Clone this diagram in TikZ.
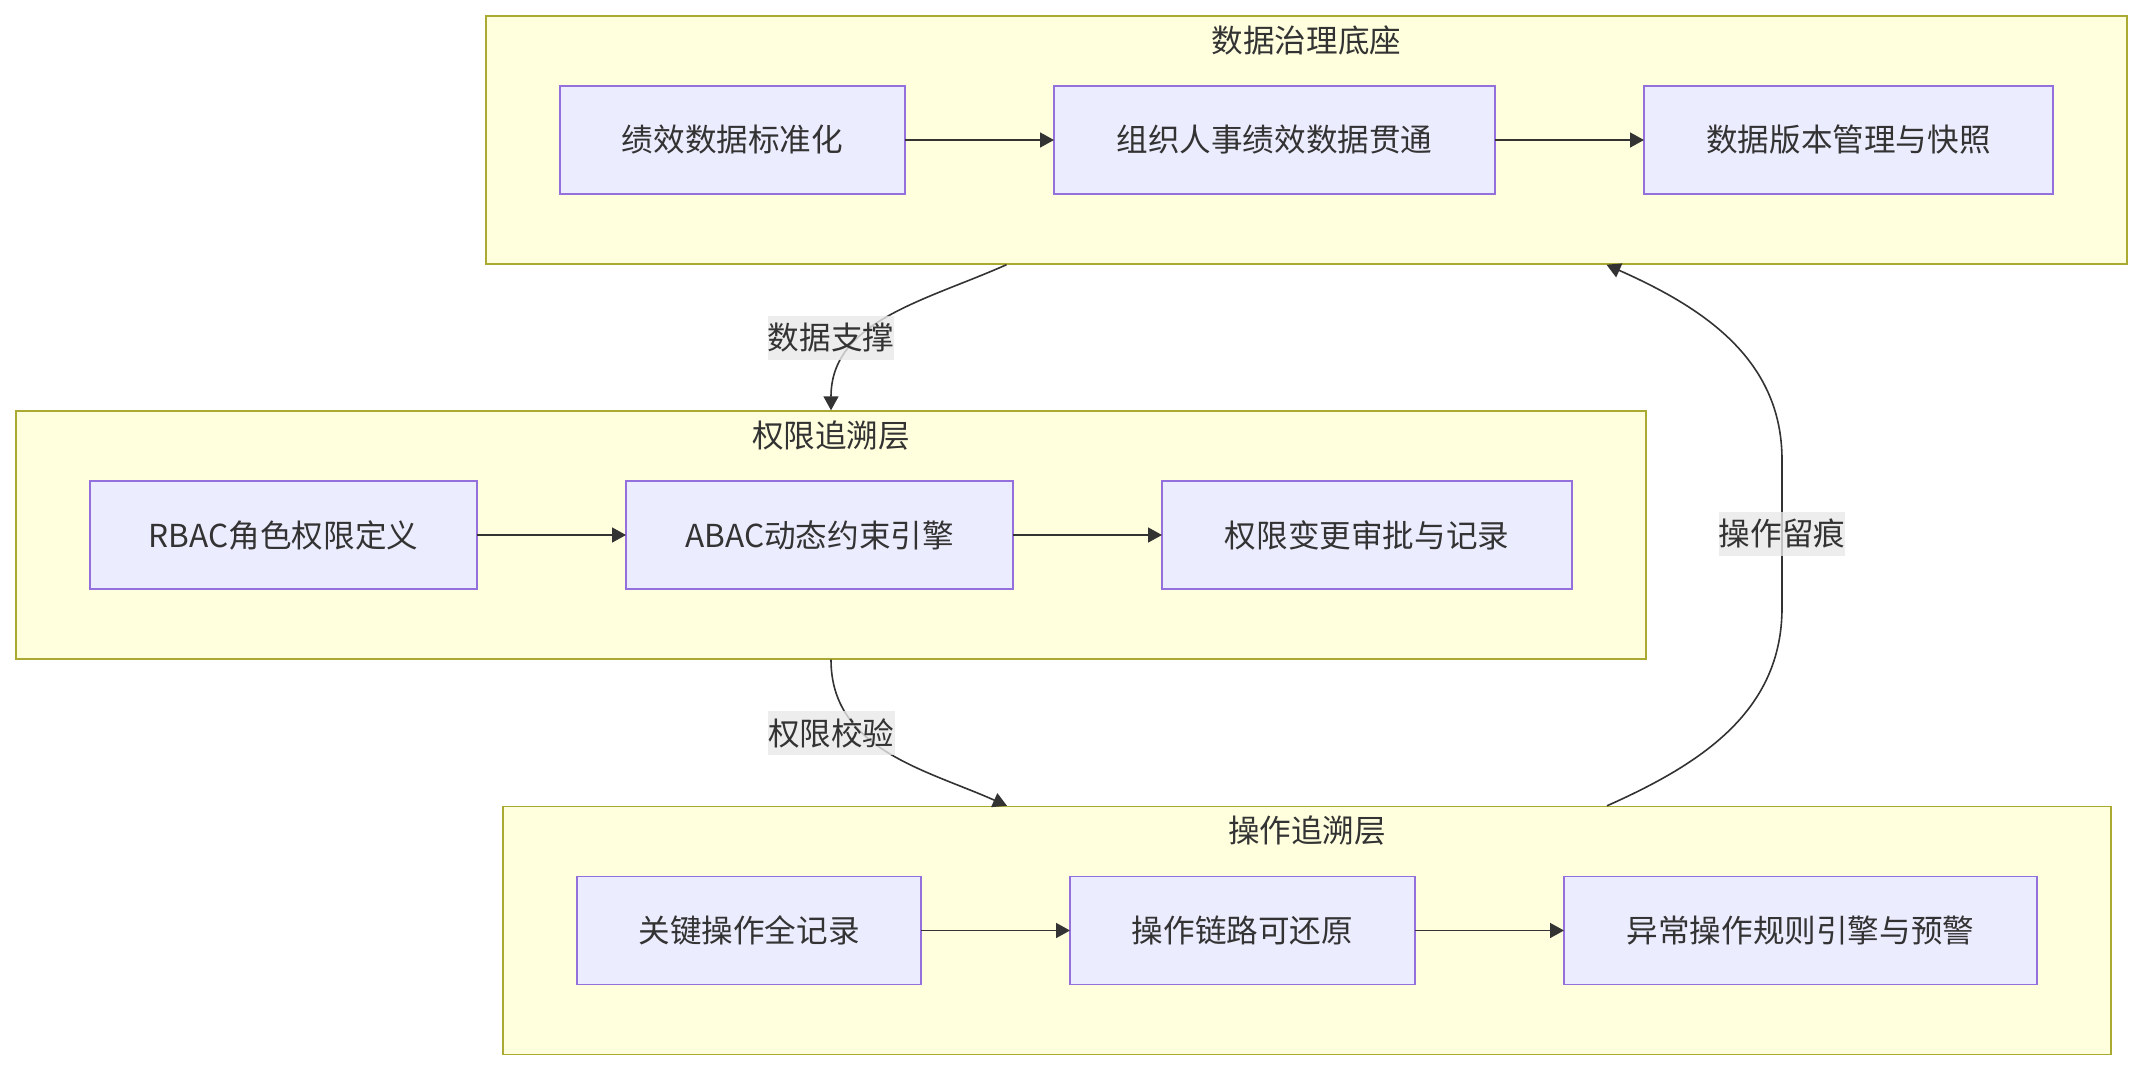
\documentclass[tikz,border=0pt]{standalone}
\usepackage{fontspec}
\setmainfont{Noto Sans CJK SC}
\usepackage{tikz}
\usetikzlibrary{arrows.meta,positioning,fit,backgrounds}
\definecolor{nodefill}{HTML}{ECECFF}
\definecolor{nodeline}{HTML}{9370DB}
\definecolor{clufill}{HTML}{FFFFDE}
\definecolor{cluline}{HTML}{AAAA33}
\definecolor{ink}{HTML}{333333}
\definecolor{lblgray}{HTML}{E8E8E8}

\begin{document}
\begin{tikzpicture}[
  x=0.5pt, y=-0.5pt,
  font=\fontsize{15.8}{19}\selectfont,
  text=ink,
  node distance=5mm and 74.5pt,
  box/.style={draw=nodeline, fill=nodefill, line width=0.7pt, align=center,
              minimum height=54pt, inner sep=0pt, outer sep=0pt},
  cluster/.style={draw=cluline, fill=clufill, line width=0.7pt,
                  inner xsep=37pt, inner ysep=35pt},
  ctitle/.style={inner sep=0pt},
  elabel/.style={fill=lblgray, fill opacity=0.8, text opacity=1,
                 inner xsep=0pt, inner ysep=0pt, minimum height=22pt},
  arr/.style={-{Triangle[length=7pt,width=7.5pt]}, line width=0.8pt, draw=ink}
]
\useasboundingbox (0,0) rectangle (2143,1072);
% data base row
\node[box, anchor=west, minimum width=172.5pt] (std) at (560,140) {绩效数据标准化};
\node[box, right=of std, minimum width=220.5pt] (link) {组织人事绩效数据贯通};
\node[box, right=of link, minimum width=204.5pt] (snap) {数据版本管理与快照};
\draw[arr] (std) -- (link);
\draw[arr] (link) -- (snap);
% permission row
\node[box, anchor=west, minimum width=193.5pt] (rbac) at (90,535) {RBAC角色权限定义};
\node[box, right=of rbac, minimum width=193.5pt] (abac) {ABAC动态约束引擎};
\node[box, right=of abac, minimum width=205pt] (audit) {权限变更审批与记录};
\draw[arr] (rbac) -- (abac);
\draw[arr] (abac) -- (audit);
% operation row
\node[box, anchor=west, minimum width=172pt] (logall) at (577,930.5) {关键操作全记录};
\node[box, right=of logall, minimum width=172.5pt] (chain) {操作链路可还原};
\node[box, right=of chain, minimum width=236.5pt] (alert) {异常操作规则引擎与预警};
\draw[arr] (logall) -- (chain);
\draw[arr] (chain) -- (alert);
% layers
\begin{pgfonlayer}{background}
\node[cluster, fit=(std)(link)(snap)] (base) {};
\node[cluster, fit=(rbac)(abac)(audit)] (perm) {};
\node[cluster, fit=(logall)(chain)(alert)] (oper) {};
\end{pgfonlayer}
\node[ctitle, below=5pt of base.north] (baset) {数据治理底座};
\node[ctitle, below=5pt of perm.north] (permt) {权限追溯层};
\node[ctitle, below=5pt of oper.north] (opert) {操作追溯层};
% links between layers
\draw[arr] ([xshift=-150pt]base.south) to[out=204, in=90]
  node[elabel, xshift=-28.5pt, yshift=-10pt] {数据支撑} (perm.north);
\draw[arr] (perm.south) to[out=-90, in=156]
  node[elabel, xshift=-28.5pt, yshift=9.7pt] {权限校验} ([xshift=-150pt]oper.north);
\draw[arr] ([xshift=150pt]oper.north) to[out=24, in=-90] ++(87.5pt,99pt)
  -- node[elabel] {操作留痕} ++(0pt,74pt) to[out=90, in=-24] ([xshift=150pt]base.south);
\end{tikzpicture}
\end{document}
